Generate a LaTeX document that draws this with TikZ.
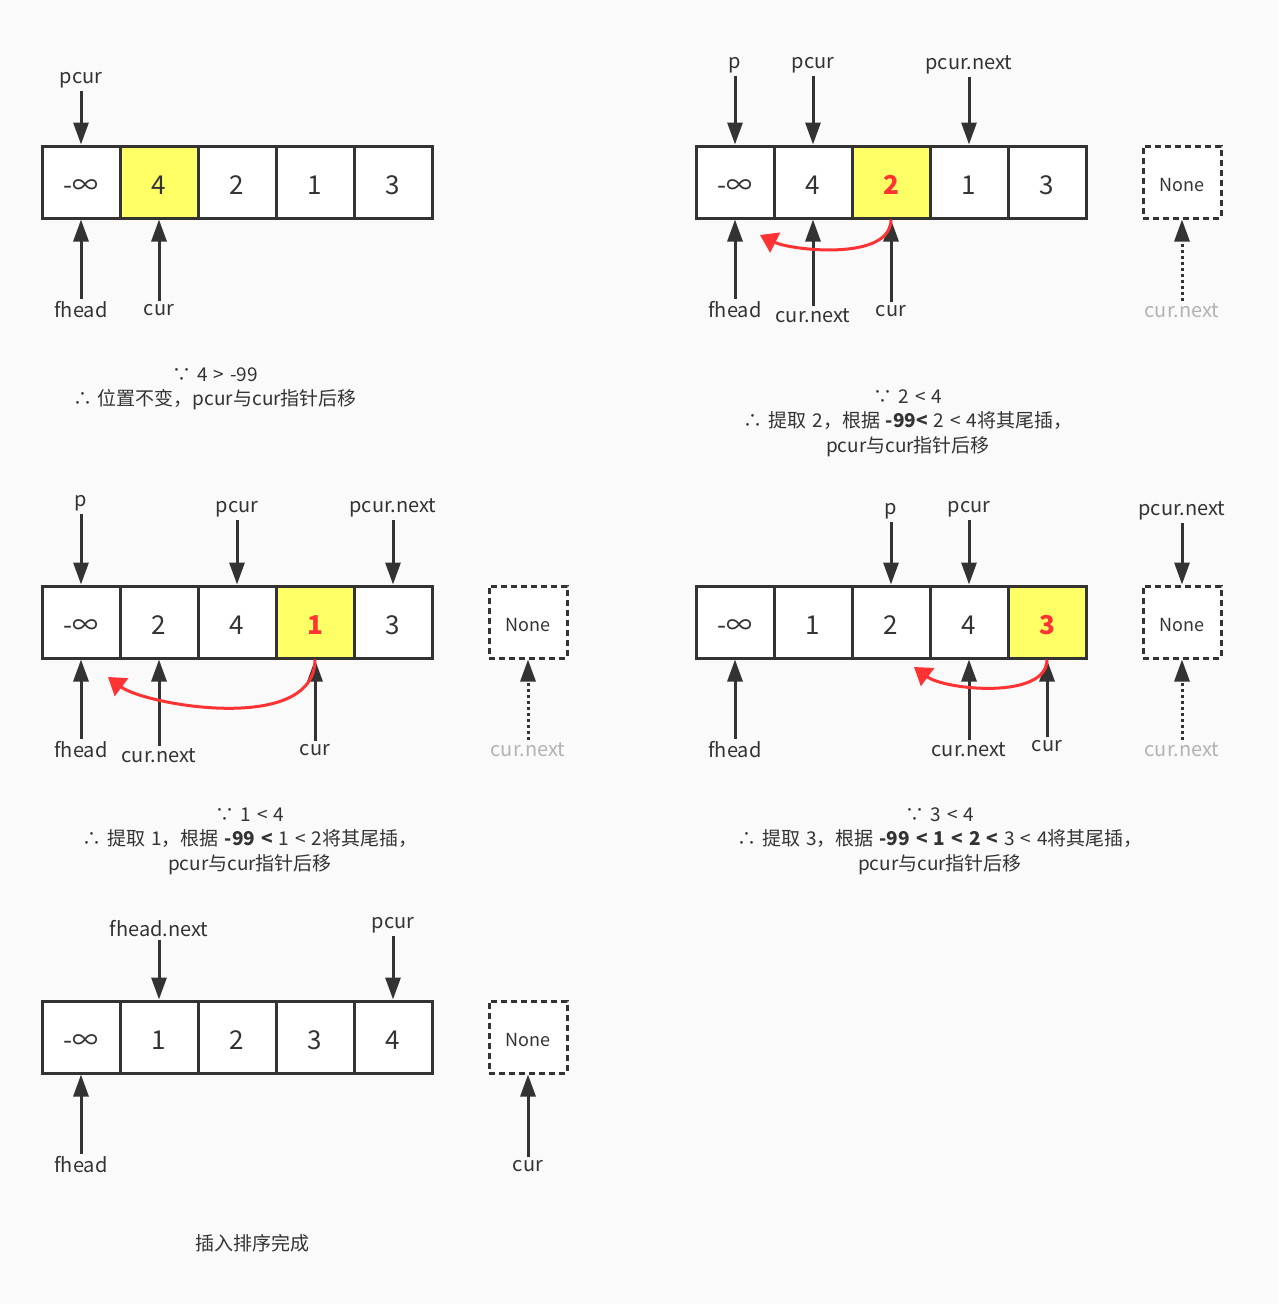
\documentclass[tikz,border=0pt]{standalone}
\usepackage{fontspec}
\setmainfont[WordSpace={1.4}]{Noto Sans CJK SC}
\usetikzlibrary{arrows.meta}

\definecolor{bgcol}{RGB}{250,250,250}
\definecolor{ink}{RGB}{51,51,51}
\definecolor{hlcol}{RGB}{255,255,102}
\definecolor{redmark}{RGB}{255,51,51}
\definecolor{faint}{RGB}{179,179,179}

\tikzset{
  cell/.style={draw=ink, line width=3pt, fill=white, minimum width=78pt,
    minimum height=72pt, inner sep=0pt, text=ink, text height=25pt,
    text depth=0pt, font=\fontsize{26}{30}\selectfont},
  hot/.style={cell, fill=hlcol, text=redmark,
    font=\fontsize{26}{30}\selectfont\bfseries},
  nonebox/.style={draw=ink, line width=3pt, dash pattern=on 6pt off 4pt,
    fill=white, minimum width=78pt, minimum height=72pt, inner sep=0pt,
    text=ink, text height=19pt, text depth=0pt,
    font=\fontsize{18}{22}\selectfont},
  lbl/.style={text=ink, inner sep=3pt, yshift=-3pt,
    font=\fontsize{20}{24}\selectfont},
  ghost/.style={lbl, text=faint},
  note/.style={text=ink, align=center, yshift=-3pt,
    font=\fontsize{19}{24.5}\selectfont},
  ptr/.style={draw=ink, line width=3pt, -{Triangle[width=15pt,length=22pt]}},
  ghostptr/.style={ptr, dash pattern=on 3pt off 3pt},
  movearc/.style={draw=redmark, line width=3pt,
    -{Triangle[width=22pt,length=17pt]}}
}

\begin{document}
\begin{tikzpicture}[x=1pt, y=-1pt]
  \useasboundingbox (0,0) rectangle (1278,1304);
  \fill[bgcol] (0,0) rectangle (1278,1304);

  % step 1
  \node[cell] (a1) at (81,182) {-∞};
  \node[cell, fill=hlcol] (a2) at (159,182) {4};
  \node[cell] (a3) at (237,182) {2};
  \node[cell] (a4) at (315,182) {1};
  \node[cell] (a5) at (393,182) {3};

  \node[lbl] (a-pcur) at (81,77) {pcur};
  \node[lbl] (a-fhead) at (81,307) {fhead};
  \node[lbl] (a-cur) at (159,307) {cur};

  \draw[ptr] (a-pcur) -- (a1);
  \draw[ptr] (a-fhead) -- (a1);
  \draw[ptr] (a-cur) -- (a2);

  \node[note] (a-note) at (215,386) {∵ 4 > -99\\∴ 位置不变，pcur与cur指针后移};

  % step 2
  \node[cell] (b1) at (735,182) {-∞};
  \node[cell] (b2) at (813,182) {4};
  \node[hot] (b3) at (891,182) {2};
  \node[cell] (b4) at (969,182) {1};
  \node[cell] (b5) at (1047,182) {3};
  \node[nonebox] (bn) at (1182,182) {None};

  \node[lbl] (b-p) at (735,62) {p};
  \node[lbl] (b-pcur) at (813,62) {pcur};
  \node[lbl] (b-pnext) at (969,62) {pcur.next};
  \node[lbl] (b-fhead) at (735,307) {fhead};
  \node[lbl] (b-next) at (813,313) {cur.next};
  \node[lbl] (b-cur) at (891,308) {cur};
  \node[ghost] (b-none) at (1182,308) {cur.next};

  \draw[ptr] (b-p) -- (b1);
  \draw[ptr] (b-pcur) -- (b2);
  \draw[ptr] (b-pnext) -- (b4);
  \draw[ptr] (b-fhead) -- (b1);
  \draw[ptr] (b-next) -- (b2);
  \draw[ptr] (b-cur) -- (b3);
  \draw[ghostptr] (b-none) -- (bn);

  \coordinate (b-tip) at (760,235);
  \draw[movearc] (b3.south) .. controls (891,262) and (790,250) .. (b-tip);

  \node[note] (b-note) at (908,420) {∵ 2 < 4\\∴ 提取 2，根据 \textbf{-99<} 2 < 4将其尾插，\\pcur与cur指针后移};

  % step 3
  \node[cell] (c1) at (81,622) {-∞};
  \node[cell] (c2) at (159,622) {2};
  \node[cell] (c3) at (237,622) {4};
  \node[hot] (c4) at (315,622) {1};
  \node[cell] (c5) at (393,622) {3};
  \node[nonebox] (cn) at (528,622) {None};

  \node[lbl] (c-p) at (81,500) {p};
  \node[lbl] (c-pcur) at (237,506) {pcur};
  \node[lbl] (c-pnext) at (393,505) {pcur.next};
  \node[lbl] (c-fhead) at (81,747) {fhead};
  \node[lbl] (c-next) at (159,753) {cur.next};
  \node[lbl] (c-cur) at (315,747) {cur};
  \node[ghost] (c-none) at (528,747) {cur.next};

  \draw[ptr] (c-p) -- (c1);
  \draw[ptr] (c-pcur) -- (c3);
  \draw[ptr] (c-pnext) -- (c5);
  \draw[ptr] (c-fhead) -- (c1);
  \draw[ptr] (c-next) -- (c2);
  \draw[ptr] (c-cur) -- (c4);
  \draw[ghostptr] (c-none) -- (cn);

  \coordinate (c-tip) at (108,677);
  \draw[movearc] (c4.south) .. controls (315,735) and (145,705) .. (c-tip);

  \node[note] (c-note) at (250,838) {∵ 1 < 4\\∴ 提取 1，根据 \textbf{-99 <} 1 < 2将其尾插，\\pcur与cur指针后移};

  % step 4
  \node[cell] (d1) at (735,622) {-∞};
  \node[cell] (d2) at (813,622) {1};
  \node[cell] (d3) at (891,622) {2};
  \node[cell] (d4) at (969,622) {4};
  \node[hot] (d5) at (1047,622) {3};
  \node[nonebox] (dn) at (1182,622) {None};

  \node[lbl] (d-p) at (891,508) {p};
  \node[lbl] (d-pcur) at (969,506) {pcur};
  \node[lbl] (d-pnext) at (1182,508) {pcur.next};
  \node[lbl] (d-fhead) at (735,747) {fhead};
  \node[lbl] (d-next) at (969,747) {cur.next};
  \node[lbl] (d-cur) at (1047,743) {cur};
  \node[ghost] (d-none) at (1182,747) {cur.next};

  \draw[ptr] (d-p) -- (d3);
  \draw[ptr] (d-pcur) -- (d4);
  \draw[ptr] (d-pnext) -- (dn);
  \draw[ptr] (d-fhead) -- (d1);
  \draw[ptr] (d-next) -- (d4);
  \draw[ptr] (d-cur) -- (d5);
  \draw[ghostptr] (d-none) -- (dn);

  \coordinate (d-tip) at (914,667);
  \draw[movearc] (d5.south) .. controls (1047,700) and (945,690) .. (d-tip);

  \node[note] (d-note) at (940,838) {∵ 3 < 4\\∴ 提取 3，根据 \textbf{-99 < 1 < 2 <} 3 < 4将其尾插，\\pcur与cur指针后移};

  % done
  \node[cell] (e1) at (81,1037) {-∞};
  \node[cell] (e2) at (159,1037) {1};
  \node[cell] (e3) at (237,1037) {2};
  \node[cell] (e4) at (315,1037) {3};
  \node[cell] (e5) at (393,1037) {4};
  \node[nonebox] (en) at (528,1037) {None};

  \node[lbl] (e-hnext) at (159,926) {fhead.next};
  \node[lbl] (e-pcur) at (393,922) {pcur};
  \node[lbl] (e-fhead) at (81,1162) {fhead};
  \node[lbl] (e-cur) at (528,1163) {cur};

  \draw[ptr] (e-hnext) -- (e2);
  \draw[ptr] (e-pcur) -- (e5);
  \draw[ptr] (e-fhead) -- (e1);
  \draw[ptr] (e-cur) -- (en);

  \node[note] (e-note) at (252,1240) {插入排序完成};
\end{tikzpicture}
\end{document}
